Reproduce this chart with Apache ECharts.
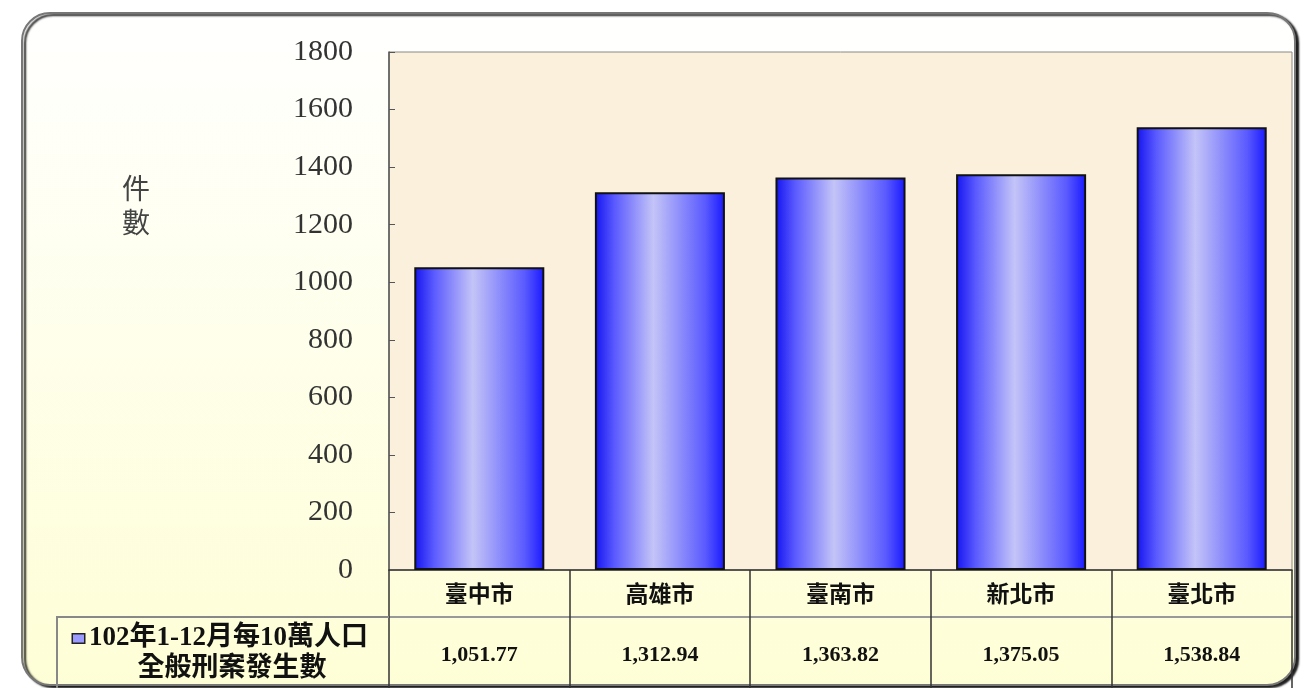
<!DOCTYPE html>
<html>
<head>
<meta charset="utf-8">
<script src="https://cdn.jsdelivr.net/npm/echarts@6/dist/echarts.min.js"></script>
<style>
  html, body { margin: 0; padding: 0; background: #fff; }
  #chart { width: 1313px; height: 688px; }
</style>
</head>
<body>
<div id="chart"></div>
<script>
// 資料
const cities = ['臺中市', '高雄市', '臺南市', '新北市', '臺北市'];
const crimeRate = [1051.77, 1312.94, 1363.82, 1375.05, 1538.84];
const yTicks = [0, 200, 400, 600, 800, 1000, 1200, 1400, 1600, 1800];
const seriesName = '102年1-12月每10萬人口\n全般刑案發生數';

const serif = '"Liberation Serif", "Noto Sans CJK TC", serif';
const rateLabels = crimeRate.map((v) =>
  v.toLocaleString('en-US', { minimumFractionDigits: 2, maximumFractionDigits: 2 })
);

const chart = echarts.init(document.getElementById('chart'));

const legendFont = {
  fontFamily: serif,
  fontWeight: 'bold',
  fontSize: 27,
  lineHeight: 31,
  color: '#111',
};

const options = {
  animation: false,
  // 外框底色與圓角
  graphic: [
    {
      type: 'rect',
      z: -10,
      shape: { x: 22, y: 13, width: 1273, height: 672, r: 28 },
      style: {
        fill: {
          type: 'linear', x: 0, y: 0, x2: 0, y2: 1,
          colorStops: [
            { offset: 0, color: '#ffffff' },
            { offset: 1, color: '#fefed6' },
          ],
        },
        stroke: '#777',
        lineWidth: 2,
        shadowColor: 'rgba(0,0,0,0.9)',
        shadowOffsetX: 3,
        shadowOffsetY: 2,
        shadowBlur: 2,
      },
    },
    {
      // 左側圖例格線
      type: 'polyline',
      z: 5,
      shape: { points: [[57, 690], [57, 617], [389, 617]] },
      style: { stroke: '#888', lineWidth: 2, fill: null },
    },
  ],
  title: {
    text: '件\n數',
    left: 117,
    top: 166,
    textStyle: {
      fontFamily: '"Noto Sans CJK TC"',
      fontWeight: 'normal',
      fontSize: 28,
      lineHeight: 34,
      color: '#444',
    },
  },
  legend: {
    left: 62,
    top: 620,
    itemWidth: 0,
    itemHeight: 0,
    itemGap: 0,
    // 圖例方塊放在第一行文字前
    formatter: (name) => {
      const lines = name.split('\n');
      return '{box|}{t|' + lines[0] + '}\n{c|' + lines[1] + '}';
    },
    textStyle: {
      rich: {
        box: {
          width: 11,
          height: 8,
          backgroundColor: '#9a9aff',
          borderColor: '#222',
          borderWidth: 1.5,
          padding: 0,
          align: 'left',
          verticalAlign: 'middle',
        },
        t: Object.assign({ padding: [0, 0, 0, 5] }, legendFont),
        c: Object.assign({ width: 318, align: 'center' }, legendFont),
      },
    },
    data: [seriesName],
  },
  grid: {
    left: 389,
    top: 52,
    right: 21,
    bottom: 118,
    show: true,
    backgroundColor: '#fbf0dc',
    borderColor: '#888',
    borderWidth: 1,
  },
  xAxis: [
    {
      type: 'category',
      data: cities,
      position: 'bottom',
      axisLine: { lineStyle: { color: '#333', width: 1.5 } },
      axisTick: { show: true, length: 125, lineStyle: { color: '#333', width: 1.5 } },
      axisLabel: {
        margin: 12,
        fontFamily: '"Noto Sans CJK TC"',
        fontWeight: 'bold',
        fontSize: 23,
        color: '#111',
      },
    },
    {
      type: 'category',
      data: rateLabels,
      position: 'bottom',
      offset: 47,
      axisLine: { lineStyle: { color: '#999', width: 2 } },
      axisTick: { show: false },
      axisLabel: {
        margin: 27,
        fontFamily: serif,
        fontWeight: 'bold',
        fontSize: 22,
        color: '#111',
      },
    },
  ],
  yAxis: {
    type: 'value',
    min: yTicks[0],
    max: yTicks[yTicks.length - 1],
    interval: 200,
    axisLine: { show: true, lineStyle: { color: '#555', width: 1.5 } },
    axisTick: { show: true, inside: true, length: 6, lineStyle: { color: '#555' } },
    splitLine: { show: false },
    axisLabel: {
      margin: 36,
      fontFamily: serif,
      fontSize: 30,
      color: '#333',
      formatter: (v) => String(v),
    },
  },
  series: [
    {
      name: seriesName,
      type: 'bar',
      data: crimeRate,
      barCategoryGap: '28%',
      itemStyle: {
        borderColor: '#111',
        borderWidth: 2,
        color: {
          type: 'linear', x: 0, y: 0, x2: 1, y2: 0,
          colorStops: [
            { offset: 0, color: '#1414f0' },
            { offset: 0.15, color: '#5a5aff' },
            { offset: 0.45, color: '#c4c4f8' },
            { offset: 0.85, color: '#5a5aff' },
            { offset: 1, color: '#1818ff' },
          ],
        },
      },
    },
  ],
};

chart.setOption(options);
</script>
</body>
</html>
